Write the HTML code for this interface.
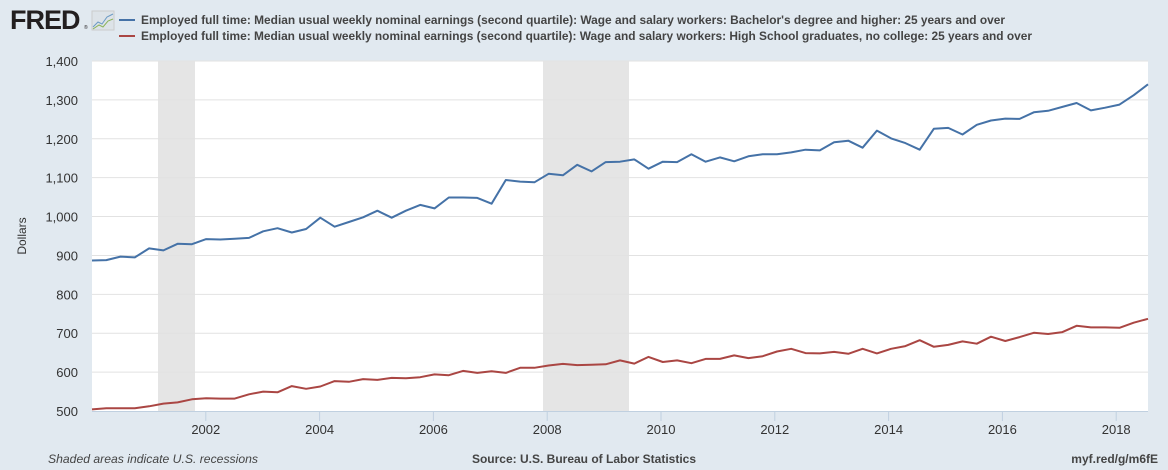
<!DOCTYPE html>
<html><head><meta charset="utf-8"><style>
body{margin:0;background:#e1e9f0;font-family:"Liberation Sans",sans-serif;}
svg{display:block}
</style></head><body>
<svg id="c" width="1168" height="470" xmlns="http://www.w3.org/2000/svg" font-family="Liberation Sans, sans-serif">
<rect width="1168" height="470" fill="#e1e9f0"/>
<text x="10" y="29" font-size="27" font-weight="bold" fill="#231f20" letter-spacing="-1">FRED</text>
<text x="84" y="29" font-size="5" fill="#231f20">®</text>
<rect x="92" y="11" width="22" height="19" fill="#dde3e8" stroke="#ccc"/>
<polyline points="93,27 98,22 102,24 107,17 113,14" fill="none" stroke="#6b9ac4" stroke-width="1"/>
<polyline points="93,29 99,25 103,27 108,21 113,19" fill="none" stroke="#8bb35a" stroke-width="1"/>
<line x1="119" y1="20" x2="135" y2="20" stroke="#4572a7" stroke-width="2"/>
<line x1="119" y1="36" x2="135" y2="36" stroke="#aa4643" stroke-width="2"/>
<text x="141" y="24" font-size="12" font-weight="bold" fill="#444" textLength="864" lengthAdjust="spacingAndGlyphs">Employed full time: Median usual weekly nominal earnings (second quartile): Wage and salary workers: Bachelor's degree and higher: 25 years and over</text>
<text x="141" y="40" font-size="12" font-weight="bold" fill="#444" textLength="891" lengthAdjust="spacingAndGlyphs">Employed full time: Median usual weekly nominal earnings (second quartile): Wage and salary workers: High School graduates, no college: 25 years and over</text>
<rect x="92" y="61" width="1056" height="350" fill="#fff"/>
<rect x="158" y="61" width="37" height="350" fill="#e5e5e5"/>
<rect x="543" y="61" width="86" height="350" fill="#e5e5e5"/>
<g id="grid"></g>
<text transform="translate(26,236) rotate(-90)" text-anchor="middle" font-size="12" fill="#333">Dollars</text>
<polyline id="b" fill="none" stroke="#4572a7" stroke-width="2" stroke-linejoin="round"/>
<polyline id="r" fill="none" stroke="#aa4643" stroke-width="2" stroke-linejoin="round"/>
<text x="48" y="463" font-size="12" font-style="italic" fill="#444" textLength="210" lengthAdjust="spacingAndGlyphs">Shaded areas indicate U.S. recessions</text>
<text x="584" y="463" font-size="12" font-weight="bold" fill="#444" text-anchor="middle">Source: U.S. Bureau of Labor Statistics</text>
<text x="1158" y="463" font-size="12" font-weight="bold" fill="#444" text-anchor="end">myf.red/g/m6fE</text>
</svg>
<script>
var g=document.getElementById('grid'),s='';
function Y(v){return 411-(v-500)*350/900;}
for(var v=500;v<=1400;v+=100){var y=Y(v);if(v>500)s+='<line x1="92" x2="1148" y1="'+y+'" y2="'+y+'" stroke="#e2e2e2"/>';
s+='<text x="78" y="'+(y+5)+'" font-size="13" fill="#333" text-anchor="end">'+v.toLocaleString('en-US')+'</text>';}
s+='<line x1="92" x2="1148" y1="411.5" y2="411.5" stroke="#c0d0e0"/>';
for(var yr=2002;yr<=2018;yr+=2){var x=92+(yr-2000)*56.9;s+='<line x1="'+x+'" x2="'+x+'" y1="411" y2="421" stroke="#c0d0e0"/><text x="'+x+'" y="434" font-size="13" fill="#333" text-anchor="middle">'+yr+'</text>';}
g.innerHTML=s;
var B=[887,888,897,895,918,913,930,929,942,941,943,945,962,970,959,968,997,974,986,998,1015,997,1015,1030,1021,1049,1049,1048,1033,1094,1090,1088,1110,1106,1133,1116,1140,1141,1147,1123,1141,1140,1160,1141,1152,1142,1155,1160,1160,1165,1172,1170,1191,1195,1177,1221,1201,1189,1172,1226,1228,1211,1236,1247,1252,1251,1268,1272,1282,1292,1273,1280,1288,1312,1340];
var R=[504,507,507,507,512,519,522,530,533,532,532,543,550,548,564,557,563,577,575,582,580,585,584,587,594,592,603,598,602,598,611,611,617,621,618,619,620,630,622,639,626,630,623,634,634,643,636,641,653,660,649,648,652,647,660,648,660,667,682,665,670,679,673,691,680,690,701,698,703,719,715,715,714,727,737];
function pts(a){return a.map(function(v,i){return (92+i*1056/74).toFixed(1)+','+Y(v).toFixed(1)}).join(' ');}
document.getElementById('b').setAttribute('points',pts(B));
document.getElementById('r').setAttribute('points',pts(R));
</script>
</body></html>
